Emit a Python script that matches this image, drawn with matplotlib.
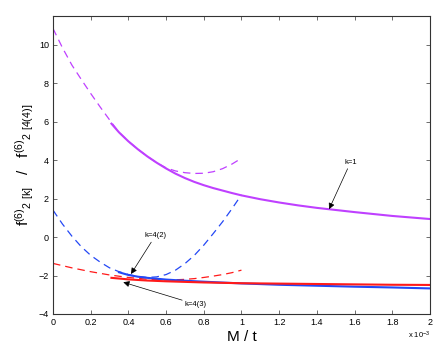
import matplotlib
matplotlib.use("Agg")
import matplotlib.pyplot as plt
from matplotlib.ticker import FormatStrFormatter

plt.rcParams['font.family'] = ['Liberation Sans', 'DejaVu Sans']
plt.rcParams['mathtext.default'] = 'regular'

# x in units of 1e-3
k1_sol_x = [0.31, 0.35, 0.4, 0.45, 0.5, 0.55, 0.6, 0.65, 0.7, 0.75, 0.8, 0.85, 0.9, 0.95,
            1.0, 1.1, 1.2, 1.3, 1.4, 1.5, 1.6, 1.7, 1.8, 1.9, 2.0]
k1_sol_y = [5.9, 5.45, 4.98, 4.57, 4.2, 3.87, 3.57, 3.3, 3.07, 2.87, 2.7, 2.55, 2.42, 2.29,
            2.17, 1.97, 1.8, 1.65, 1.52, 1.41, 1.3, 1.2, 1.1, 1.02, 0.94]
k1_dash_x = [0.0, 0.05, 0.1, 0.15, 0.2, 0.25, 0.3, 0.35, 0.4, 0.45, 0.5, 0.55, 0.6, 0.65,
             0.7, 0.75, 0.8, 0.85, 0.9, 0.95, 1.0]
k1_dash_y = [10.85, 9.85, 8.95, 8.2, 7.47, 6.77, 6.1, 5.45, 4.98, 4.57, 4.2, 3.87, 3.6, 3.44,
             3.35, 3.31, 3.32, 3.4, 3.56, 3.8, 4.1]

k42_sol_x = [0.35, 0.4, 0.45, 0.5, 0.6, 0.7, 0.8, 1.0, 1.2, 1.4, 1.6, 1.8, 2.0]
k42_sol_y = [-1.83, -1.97, -2.06, -2.12, -2.21, -2.27, -2.32, -2.41, -2.48, -2.53, -2.58, -2.62, -2.67]
k42_dash_x = [0.0, 0.05, 0.1, 0.15, 0.2, 0.25, 0.3, 0.35, 0.4, 0.45, 0.5, 0.55, 0.6, 0.65,
              0.7, 0.75, 0.8, 0.85, 0.9, 0.95, 1.0]
k42_dash_y = [1.4, 0.68, 0.05, -0.5, -0.95, -1.3, -1.6, -1.8, -1.95, -2.05, -2.1, -2.07, -1.95, -1.72,
              -1.38, -0.95, -0.42, 0.18, 0.8, 1.48, 2.2]

k43_sol_x = [0.31, 0.4, 0.5, 0.6, 0.8, 1.0, 1.2, 1.4, 1.6, 1.8, 2.0]
k43_sol_y = [-2.12, -2.2, -2.26, -2.3, -2.36, -2.4, -2.42, -2.44, -2.46, -2.48, -2.49]
k43_dash_x = [0.0, 0.1, 0.2, 0.3, 0.4, 0.5, 0.6, 0.65, 0.7, 0.75, 0.8, 0.85, 0.9, 0.95, 1.0]
k43_dash_y = [-1.37, -1.6, -1.8, -1.97, -2.1, -2.19, -2.23, -2.22, -2.2, -2.16, -2.1, -2.03, -1.95, -1.85, -1.72]

c_mag = '#BF40FF'
c_blue = '#2448F5'
c_red = '#FF1A1A'

fig = plt.figure(figsize=(4.36, 3.45), dpi=100)
ax = fig.add_axes([0.1216, 0.0899, 0.8644, 0.8637])

dash = (0, (6, 4))
ax.plot(k1_dash_x, k1_dash_y, color=c_mag, lw=0.9, linestyle=dash)
ax.plot(k42_dash_x, k42_dash_y, color=c_blue, lw=0.9, linestyle=dash)
ax.plot(k43_dash_x, k43_dash_y, color=c_red, lw=0.9, linestyle=dash)
ax.plot(k1_sol_x, k1_sol_y, color=c_mag, lw=1.5)
ax.plot(k42_sol_x, k42_sol_y, color=c_blue, lw=1.5)
ax.plot(k43_sol_x, k43_sol_y, color=c_red, lw=1.5)

arr = dict(arrowstyle='-|>', color='k', lw=0.5, mutation_scale=9, shrinkA=0, shrinkB=0)
ax.annotate('k=1', xy=(1.465, 1.45), xytext=(1.545, 3.7), fontsize=5.5,
            arrowprops=arr, ha='left', va='bottom')
ax.annotate('k=4(2)', xy=(0.414, -1.92), xytext=(0.484, -0.12), fontsize=5.5,
            arrowprops=arr, ha='left', va='bottom')
ax.annotate('k=4(3)', xy=(0.373, -2.35), xytext=(0.70, -3.5), fontsize=5.5,
            arrowprops=arr, ha='left', va='center')

ax.set_xlim(0, 2)
ax.set_ylim(-4, 11.5)
ax.set_xticks([0, 0.2, 0.4, 0.6, 0.8, 1, 1.2, 1.4, 1.6, 1.8, 2])
ax.set_yticks([-4, -2, 0, 2, 4, 6, 8, 10])
ax.xaxis.set_major_formatter(FormatStrFormatter('%g'))
ax.tick_params(direction='in', top=True, right=True, labelsize=6.5,
               length=3, width=0.6, color='#555555', pad=3)
for s in ax.spines.values():
    s.set_linewidth(0.8)
    s.set_color('#333333')

ax.set_xlabel('M / t', fontsize=11, labelpad=2)
ax.set_ylabel(r'f$^{(6)}{}_{2\ [k]}$   /   f$^{(6)}{}_{2\ [4(4)]}$', fontsize=11, labelpad=2)
fig.text(0.935, 0.027, r'x 10$^{-3}$', fontsize=5.5, ha='left', va='center')

fig.savefig('out.png', dpi=100)
